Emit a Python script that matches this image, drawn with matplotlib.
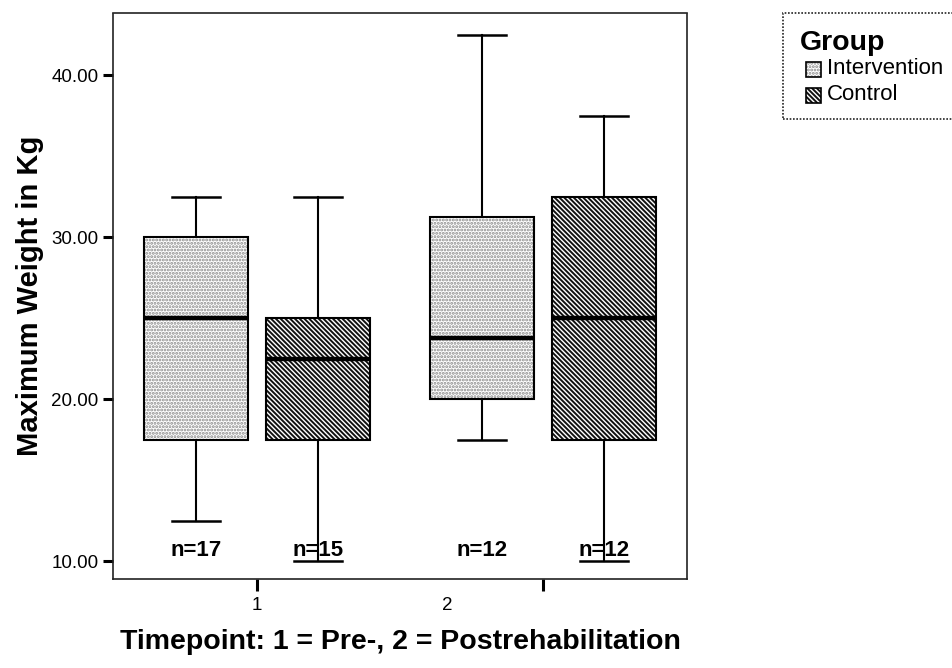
import matplotlib
matplotlib.use("Agg")
import matplotlib.pyplot as plt
from matplotlib.patches import Rectangle, PathPatch

# ---- data ----
timepoints = ["1", "2"]
groups = ["Intervention", "Control"]
q1 = {"Intervention": [17.5, 20.0], "Control": [17.5, 17.5]}
median = {"Intervention": [25.0, 23.75], "Control": [22.5, 25.0]}
q3 = {"Intervention": [30.0, 31.25], "Control": [25.0, 32.5]}
whislo = {"Intervention": [12.5, 17.5], "Control": [10.0, 10.0]}
whishi = {"Intervention": [32.5, 42.5], "Control": [32.5, 37.5]}
n_obs = {"Intervention": [17, 12], "Control": [15, 12]}
yticks = [10, 20, 30, 40]

plt.rcParams["font.family"] = ["Liberation Sans", "DejaVu Sans"]
plt.rcParams["hatch.linewidth"] = 1.4

fig = plt.figure(figsize=(9.53, 6.68), dpi=100)
W, H = 953, 668
ax = fig.add_axes([113 / W, 1 - 579 / H, 574 / W, 566 / H])

offsets = {"Intervention": -0.2125, "Control": 0.2125}
hatches = {"Intervention": ".....", "Control": "\\\\\\\\\\\\\\"}
hatch_colors = {"Intervention": "#8a8a8a", "Control": "#111111"}

for g in groups:
    stats = []
    for i in range(len(timepoints)):
        stats.append(dict(med=median[g][i], q1=q1[g][i], q3=q3[g][i],
                          whislo=whislo[g][i], whishi=whishi[g][i], fliers=[]))
    pos = [i + 1 + offsets[g] for i in range(len(timepoints))]
    bp = ax.bxp(stats, positions=pos, widths=0.364, patch_artist=True,
                showfliers=False, capwidths=0.166,
                boxprops=dict(linewidth=0, edgecolor=hatch_colors[g], facecolor="white"),
                medianprops=dict(color="black", linewidth=3.2, zorder=4),
                whiskerprops=dict(color="black", linewidth=1.5),
                capprops=dict(color="black", linewidth=1.8))
    for b in bp["boxes"]:
        b.set_hatch(hatches[g])
        ax.add_patch(PathPatch(b.get_path(), fill=False, edgecolor="black",
                               linewidth=1.5, zorder=3.5))
    for p, n in zip(pos, n_obs[g]):
        ax.text(p, 10.3, f"n={n}", ha="center", va="baseline",
                fontsize=16, fontweight="bold")

ax.set_xlim(1.5 - 1.0035, 1.5 + 1.0035)
ax.set_ylim(8.89, 43.84)

ax.set_yticks(yticks)
ax.set_yticklabels([f"{v:.2f}" for v in yticks])
ax.tick_params(axis="y", length=7.5, width=2.2, labelsize=13.5, pad=3)

# tick marks at group centers, labels placed as in the reference
ax.xaxis.remove_overlapping_locs = False
ax.set_xticks([1, 2], minor=True)
ax.set_xticks([1, 1.664])
ax.set_xticklabels(timepoints)
ax.tick_params(axis="x", which="minor", length=8.6, width=2.2)
ax.tick_params(axis="x", which="major", length=0, labelsize=13.5, pad=13)

for s in ax.spines.values():
    s.set_linestyle((0, (1, 1)))
    s.set_linewidth(1.2)
    s.set_color("#222222")

ax.set_ylabel("Maximum Weight in Kg", fontsize=21, fontweight="bold", labelpad=5)
ax.set_xlabel("Timepoint: 1 = Pre-, 2 = Postrehabilitation", fontsize=20.5,
              fontweight="bold", labelpad=11)

# legend (manual, in figure pixels)
def fx(x):
    return x / W

def fy(y):
    return 1 - y / H

fig.patches.append(Rectangle((fx(783), fy(119)), fx(200), 106 / H, transform=fig.transFigure,
                             fill=False, linestyle=(0, (1, 1)), linewidth=1.2,
                             edgecolor="#222222", clip_on=False))
fig.text(fx(800), fy(43), "Group", fontsize=20.5, fontweight="bold", va="center", ha="left")
for g, yc in zip(groups, [69, 95]):
    r = Rectangle((fx(806), fy(yc + 7.5)), 15 / W, 15 / H, transform=fig.transFigure,
                  facecolor="white", edgecolor=hatch_colors[g], linewidth=0, hatch=hatches[g])
    fig.patches.append(r)
    fig.patches.append(Rectangle((fx(806), fy(yc + 7.5)), 15 / W, 15 / H,
                                 transform=fig.transFigure, fill=False,
                                 edgecolor="black", linewidth=1.2))
    fig.text(fx(827), fy(yc), g, fontsize=16, va="center", ha="left")

fig.savefig("out.png", dpi=100)
